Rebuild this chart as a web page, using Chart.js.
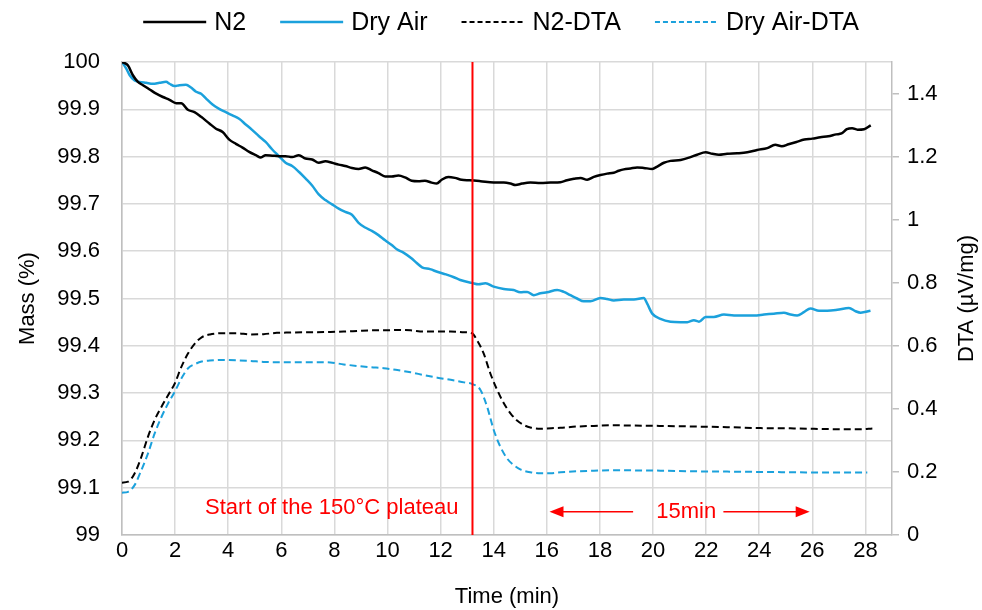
<!DOCTYPE html>
<html>
<head>
<meta charset="utf-8">
<script src="https://cdn.jsdelivr.net/npm/chart.js@4/dist/chart.umd.min.js"></script>
<style>
  html, body { margin: 0; padding: 0; background: #ffffff; }
  #c { display: block; }
</style>
</head>
<body>
<canvas id="c" width="982" height="610"></canvas>
<script>
// Thermogravimetric mass loss (left axis, %) and DTA signal (right axis, µV/mg)
// versus time (min) under nitrogen and dry air.

const seriesLabels = ['N2', 'Dry Air', 'N2-DTA', 'Dry Air-DTA'];

const n2Time = [0, 0.22, 0.41, 0.6, 0.79, 1.04, 1.29, 1.54, 1.79, 2.04, 2.23, 2.48, 2.73, 2.98, 3.29, 3.54, 3.79, 4.04, 4.29, 4.54, 4.79, 5.04, 5.23, 5.41, 5.66, 5.91, 6.16, 6.41, 6.66, 6.91, 7.16, 7.41, 7.66, 7.91, 8.16, 8.41, 8.66, 8.91, 9.16, 9.41, 9.66, 9.91, 10.16, 10.41, 10.66, 10.91, 11.16, 11.41, 11.66, 11.85, 12.04, 12.29, 12.54, 12.79, 13.1, 13.5, 14.0, 14.38, 14.63, 14.82, 15.07, 15.38, 15.76, 16.14, 16.51, 16.76, 17.02, 17.27, 17.52, 17.77, 18.02, 18.27, 18.52, 18.71, 18.9, 19.15, 19.4, 19.65, 19.97, 20.16, 20.41, 20.66, 21.04, 21.41, 21.66, 21.98, 22.23, 22.48, 22.79, 23.17, 23.55, 23.92, 24.3, 24.6, 24.85, 25.1, 25.4, 25.7, 26.0, 26.3, 26.6, 26.9, 27.1, 27.3, 27.5, 27.7, 27.95, 28.2];
const n2Mass = [100.000, 99.993, 99.972, 99.958, 99.951, 99.942, 99.933, 99.926, 99.920, 99.913, 99.913, 99.899, 99.894, 99.884, 99.870, 99.859, 99.852, 99.836, 99.827, 99.819, 99.810, 99.803, 99.798, 99.803, 99.802, 99.801, 99.801, 99.799, 99.803, 99.796, 99.794, 99.787, 99.790, 99.787, 99.783, 99.780, 99.776, 99.774, 99.777, 99.771, 99.765, 99.758, 99.758, 99.760, 99.756, 99.749, 99.748, 99.749, 99.745, 99.743, 99.751, 99.757, 99.755, 99.751, 99.750, 99.748, 99.745, 99.745, 99.743, 99.740, 99.743, 99.745, 99.744, 99.745, 99.746, 99.750, 99.753, 99.755, 99.751, 99.757, 99.761, 99.764, 99.766, 99.770, 99.773, 99.775, 99.777, 99.776, 99.774, 99.779, 99.787, 99.791, 99.793, 99.799, 99.804, 99.809, 99.806, 99.804, 99.806, 99.807, 99.809, 99.814, 99.818, 99.825, 99.822, 99.826, 99.831, 99.836, 99.838, 99.841, 99.843, 99.847, 99.849, 99.858, 99.860, 99.857, 99.858, 99.866];

const airTime = [0, 0.16, 0.29, 0.475, 0.66, 0.91, 1.16, 1.41, 1.66, 1.79, 1.98, 2.16, 2.41, 2.6, 2.79, 2.98, 3.16, 3.41, 3.66, 3.91, 4.16, 4.41, 4.66, 4.91, 5.16, 5.41, 5.66, 5.91, 6.16, 6.41, 6.66, 6.91, 7.16, 7.41, 7.66, 7.91, 8.16, 8.41, 8.66, 8.91, 9.16, 9.41, 9.66, 9.91, 10.16, 10.35, 10.6, 10.9, 11.1, 11.3, 11.6, 11.9, 12.2, 12.5, 12.74, 13.18, 13.43, 13.69, 14.0, 14.38, 14.75, 15.0, 15.26, 15.51, 15.76, 16.01, 16.39, 16.64, 16.89, 17.14, 17.39, 17.64, 18.02, 18.27, 18.52, 18.9, 19.28, 19.65, 19.78, 19.97, 20.28, 20.66, 21.04, 21.29, 21.54, 21.73, 21.98, 22.29, 22.67, 23.05, 23.42, 23.8, 24.18, 24.55, 24.93, 25.18, 25.43, 25.68, 25.93, 26.25, 26.56, 26.94, 27.38, 27.63, 27.82, 28.19];
const airMass = [100.000, 99.986, 99.972, 99.961, 99.958, 99.956, 99.954, 99.956, 99.958, 99.954, 99.949, 99.951, 99.952, 99.946, 99.937, 99.933, 99.923, 99.910, 99.901, 99.894, 99.887, 99.880, 99.868, 99.856, 99.843, 99.831, 99.815, 99.801, 99.787, 99.780, 99.768, 99.754, 99.739, 99.720, 99.708, 99.699, 99.690, 99.683, 99.677, 99.660, 99.650, 99.643, 99.634, 99.623, 99.613, 99.604, 99.597, 99.585, 99.575, 99.566, 99.562, 99.556, 99.551, 99.545, 99.539, 99.533, 99.530, 99.532, 99.525, 99.520, 99.518, 99.513, 99.514, 99.507, 99.511, 99.513, 99.518, 99.514, 99.507, 99.500, 99.494, 99.494, 99.501, 99.499, 99.496, 99.498, 99.498, 99.501, 99.489, 99.468, 99.457, 99.451, 99.450, 99.450, 99.454, 99.451, 99.461, 99.461, 99.466, 99.464, 99.464, 99.464, 99.466, 99.468, 99.470, 99.466, 99.464, 99.471, 99.479, 99.474, 99.474, 99.476, 99.480, 99.473, 99.470, 99.474];

const n2DtaTime = [0, 0.23, 0.48, 0.73, 0.98, 1.23, 1.49, 1.74, 1.99, 2.24, 2.49, 2.75, 3.0, 3.31, 3.82, 4.32, 4.82, 5.33, 5.83, 6.34, 6.84, 7.34, 7.85, 8.35, 8.86, 9.36, 9.86, 10.37, 10.87, 11.38, 11.88, 12.38, 12.88, 13.18, 13.37, 13.62, 13.87, 14.13, 14.38, 14.63, 14.88, 15.13, 15.38, 15.76, 16.01, 16.51, 17.14, 17.77, 18.52, 19.28, 20.28, 21.54, 22.79, 24.05, 25.31, 26.56, 27.82, 28.26];
const n2Dta = [0.166, 0.169, 0.196, 0.248, 0.312, 0.365, 0.407, 0.444, 0.481, 0.534, 0.576, 0.608, 0.627, 0.636, 0.640, 0.640, 0.636, 0.637, 0.641, 0.642, 0.643, 0.643, 0.644, 0.645, 0.647, 0.649, 0.649, 0.650, 0.649, 0.645, 0.645, 0.645, 0.643, 0.640, 0.618, 0.576, 0.513, 0.460, 0.418, 0.386, 0.363, 0.349, 0.341, 0.337, 0.338, 0.340, 0.344, 0.346, 0.348, 0.347, 0.346, 0.344, 0.342, 0.339, 0.338, 0.336, 0.335, 0.338];

const airDtaTime = [0, 0.23, 0.48, 0.73, 0.98, 1.23, 1.49, 1.74, 1.99, 2.24, 2.49, 2.75, 3.0, 3.31, 3.82, 4.32, 4.82, 5.33, 5.83, 6.34, 6.84, 7.34, 7.85, 8.35, 8.86, 9.36, 9.86, 10.37, 10.87, 11.38, 11.88, 12.38, 12.88, 13.18, 13.5, 13.75, 14.0, 14.25, 14.5, 14.75, 15.0, 15.38, 15.76, 16.14, 16.51, 17.14, 17.77, 18.4, 19.03, 20.28, 21.54, 22.79, 24.05, 25.31, 26.56, 27.82, 28.07];
const airDta = [0.134, 0.137, 0.159, 0.206, 0.259, 0.322, 0.375, 0.418, 0.455, 0.497, 0.529, 0.542, 0.550, 0.553, 0.555, 0.554, 0.552, 0.549, 0.548, 0.548, 0.548, 0.548, 0.547, 0.541, 0.536, 0.532, 0.529, 0.523, 0.516, 0.507, 0.499, 0.492, 0.484, 0.479, 0.460, 0.407, 0.333, 0.280, 0.243, 0.222, 0.208, 0.199, 0.196, 0.196, 0.199, 0.202, 0.204, 0.205, 0.205, 0.204, 0.202, 0.201, 0.200, 0.199, 0.198, 0.198, 0.198];

// Start of the 150 °C isothermal plateau (min) and the 15 min marker span
const plateauStart = 13.2;
const plateauText = 'Start of the 150°C plateau';
const plateauTextY = 99.057;
const spanText = '15min';
const spanLeft = [16.1, 19.25];
const spanRight = [22.65, 25.9];
const spanTextX = 21.25;
const spanY = 99.049;

const BLUE = '#1ba1dc';
const RED = '#ff0000';
const GRID = '#d9d9d9';
const AXIS = '#bfbfbf';
const FONT = "'Liberation Sans', Arial, sans-serif";

const pts = (xs, ys) => xs.map((x, i) => ({ x, y: ys[i] }));

Chart.defaults.font.family = FONT;
Chart.defaults.color = '#000';

// Legend row, annotations and the right-hand axis title
const overlay = {
  id: 'overlay',
  afterDraw(chart) {
    const { ctx, chartArea, scales } = chart;
    const xs = scales.x, ys = scales.y;
    ctx.save();

    // legend
    const legendFont = 25;
    const lineLen = 63, textGap = 8, itemGap = 34;
    ctx.font = legendFont + 'px ' + FONT;
    const items = chart.data.datasets.filter(d => d.inLegend);
    let total = 0;
    items.forEach((d, i) => {
      total += lineLen + textGap + ctx.measureText(d.label).width + (i ? itemGap : 0);
    });
    let lx = 501 - total / 2;
    const ly = 22;
    ctx.textBaseline = 'middle';
    ctx.textAlign = 'left';
    items.forEach((d) => {
      ctx.beginPath();
      ctx.strokeStyle = d.borderColor;
      ctx.lineWidth = d.borderWidth;
      ctx.setLineDash(d.borderDash ? [5, 3] : []);
      ctx.moveTo(lx, ly);
      ctx.lineTo(lx + lineLen, ly);
      ctx.stroke();
      ctx.setLineDash([]);
      ctx.fillStyle = '#000';
      ctx.fillText(d.label, lx + lineLen + textGap, ly + 1);
      lx += lineLen + textGap + ctx.measureText(d.label).width + itemGap;
    });

    // right axis title, reading bottom to top
    ctx.save();
    ctx.font = '22px ' + FONT;
    ctx.fillStyle = '#000';
    ctx.textAlign = 'center';
    ctx.textBaseline = 'middle';
    ctx.translate(967, (chartArea.top + chartArea.bottom) / 2);
    ctx.rotate(-Math.PI / 2);
    ctx.fillText('DTA (µV/mg)', 0, 0);
    ctx.restore();

    // plateau label
    ctx.font = '22px ' + FONT;
    ctx.fillStyle = RED;
    ctx.textAlign = 'right';
    ctx.textBaseline = 'middle';
    ctx.fillText(plateauText, xs.getPixelForValue(plateauStart) - 14, ys.getPixelForValue(plateauTextY));

    // 15 min span with arrows
    const ay = ys.getPixelForValue(spanY);
    ctx.textAlign = 'center';
    ctx.fillText(spanText, xs.getPixelForValue(spanTextX), ay);
    ctx.strokeStyle = RED;
    ctx.lineWidth = 1.5;
    const head = 14, half = 5.5;
    const l0 = xs.getPixelForValue(spanLeft[0]), l1 = xs.getPixelForValue(spanLeft[1]);
    const r0 = xs.getPixelForValue(spanRight[0]), r1 = xs.getPixelForValue(spanRight[1]);
    ctx.beginPath();
    ctx.moveTo(l0 + head - 1, ay); ctx.lineTo(l1, ay);
    ctx.moveTo(r0, ay); ctx.lineTo(r1 - head + 1, ay);
    ctx.stroke();
    ctx.fillStyle = RED;
    ctx.beginPath();
    ctx.moveTo(l0, ay); ctx.lineTo(l0 + head, ay - half); ctx.lineTo(l0 + head, ay + half); ctx.closePath();
    ctx.fill();
    ctx.beginPath();
    ctx.moveTo(r1, ay); ctx.lineTo(r1 - head, ay - half); ctx.lineTo(r1 - head, ay + half); ctx.closePath();
    ctx.fill();

    ctx.restore();
  }
};

const lineBase = { pointRadius: 0, pointHoverRadius: 0, fill: false, cubicInterpolationMode: 'monotone' };

new Chart(document.getElementById('c'), {
  type: 'line',
  data: {
    datasets: [
      Object.assign({}, lineBase, { label: seriesLabels[0], inLegend: true, data: pts(n2Time, n2Mass), borderColor: '#000', borderWidth: 2.5, yAxisID: 'y', order: 2 }),
      Object.assign({}, lineBase, { label: seriesLabels[1], inLegend: true, data: pts(airTime, airMass), borderColor: BLUE, borderWidth: 2.5, yAxisID: 'y', order: 3 }),
      Object.assign({}, lineBase, { label: seriesLabels[2], inLegend: true, data: pts(n2DtaTime, n2Dta), borderColor: '#000', borderWidth: 2, borderDash: [7, 4], yAxisID: 'y2', order: 4 }),
      Object.assign({}, lineBase, { label: seriesLabels[3], inLegend: true, data: pts(airDtaTime, airDta), borderColor: BLUE, borderWidth: 2, borderDash: [7, 4], yAxisID: 'y2', order: 5 }),
      Object.assign({}, lineBase, { label: 'plateau', inLegend: false, data: [{ x: plateauStart, y: 99 }, { x: plateauStart, y: 100 }], borderColor: RED, borderWidth: 2, yAxisID: 'y', order: 1, cubicInterpolationMode: 'default', tension: 0 })
    ]
  },
  options: {
    responsive: false,
    animation: false,
    devicePixelRatio: 1,
    layout: { padding: { top: 62, left: 0, right: 0, bottom: 0 } },
    plugins: { legend: { display: false }, tooltip: { enabled: false } },
    scales: {
      x: {
        type: 'linear', position: 'bottom', min: 0, max: 29,
        ticks: { stepSize: 2, includeBounds: false, padding: 3, font: { size: 22 }, color: '#000', maxRotation: 0, autoSkip: false },
        grid: { color: GRID, lineWidth: 1.5, drawTicks: false },
        border: { color: AXIS, width: 1.5 },
        title: { display: true, text: 'Time (min)', font: { size: 22 }, color: '#000', padding: { top: 0, bottom: 0 } },
        afterFit(s) { s.height = 75; }
      },
      y: {
        type: 'linear', position: 'left', min: 99, max: 100,
        ticks: { stepSize: 0.1, padding: 22, font: { size: 22 }, color: '#000', callback: v => String(+v.toFixed(1)) },
        grid: { color: GRID, lineWidth: 1.5, drawTicks: false },
        border: { color: AXIS, width: 1.5 },
        title: { display: true, text: 'Mass (%)', font: { size: 22 }, color: '#000', padding: { top: 15, bottom: 0 } },
        afterFit(s) { s.width = 122; }
      },
      y2: {
        type: 'linear', position: 'right', min: 0, max: 1.5,
        ticks: { stepSize: 0.2, includeBounds: false, padding: 8, font: { size: 22 }, color: '#000', callback: v => String(+v.toFixed(1)) },
        grid: { drawOnChartArea: false, drawTicks: true, tickLength: 7, color: AXIS, lineWidth: 1.5 },
        border: { color: AXIS, width: 1.5 },
        afterFit(s) { s.width = 90; }
      }
    }
  },
  plugins: [overlay]
});
</script>
</body>
</html>
